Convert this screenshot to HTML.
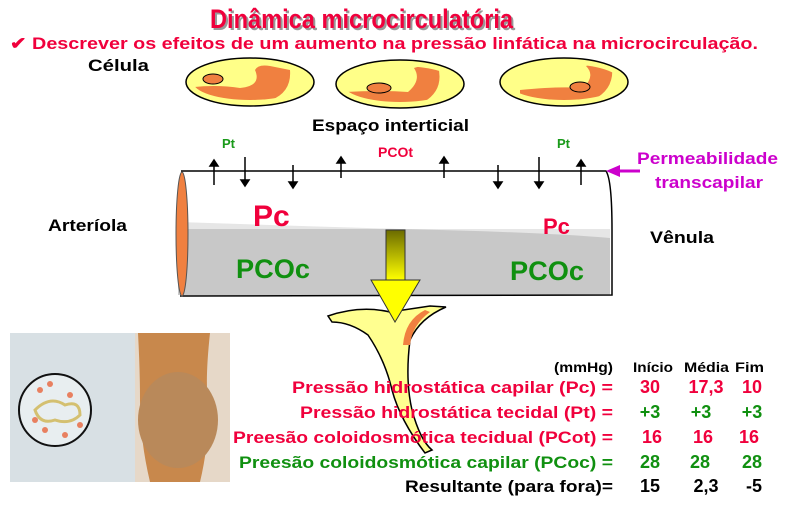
<!DOCTYPE html>
<html><head><meta charset="utf-8"><style>
html,body{margin:0;padding:0;background:#fff;width:786px;height:514px;overflow:hidden}
svg{display:block}
text{font-family:"Liberation Sans",Arial,sans-serif;font-weight:bold}
</style></head><body>
<svg width="786" height="514" viewBox="0 0 786 514" xmlns="http://www.w3.org/2000/svg">
<defs>
<linearGradient id="ag" x1="0" y1="0" x2="0" y2="1"><stop offset="0" stop-color="#6b6b00"/><stop offset="1" stop-color="#ffff00"/></linearGradient>
<clipPath id="c1"><ellipse cx="250" cy="82" rx="57" ry="18"/></clipPath>
<clipPath id="c2"><ellipse cx="400" cy="84" rx="57" ry="18"/></clipPath>
<clipPath id="c3"><ellipse cx="564" cy="82" rx="57" ry="18"/></clipPath>
</defs>
<text x="212" y="30" font-size="27" fill="#999" textLength="303" lengthAdjust="spacingAndGlyphs">Dinâmica microcirculatória</text>
<text x="210" y="28" font-size="27" fill="#f0003c" textLength="303" lengthAdjust="spacingAndGlyphs">Dinâmica microcirculatória</text>
<text x="10" y="49" font-size="17" fill="#f0003c" textLength="748" lengthAdjust="spacingAndGlyphs">✔ Descrever os efeitos de um aumento na pressão linfática na microcirculação.</text>
<text x="88" y="71" font-size="17" fill="#000" textLength="61" lengthAdjust="spacingAndGlyphs">Célula</text>
<g stroke="#000" stroke-width="1.5" fill="#ffff88">
<ellipse cx="250" cy="82" rx="64" ry="24"/>
<ellipse cx="400" cy="84" rx="64" ry="24"/>
<ellipse cx="564" cy="82" rx="64" ry="24"/>
</g>
<path clip-path="url(#c1)" d="M185,88 Q215,84 240,88 Q262,86 255,70 Q258,64 270,66 L290,70 Q292,95 265,102 Q220,110 185,98 Z" fill="#f08040"/>
<ellipse cx="213" cy="79" rx="10" ry="5" fill="#f08040" stroke="#000"/>
<path clip-path="url(#c2)" d="M345,92 Q380,90 408,92 Q422,80 414,68 Q425,64 438,66 Q445,92 420,104 Q380,112 345,102 Z" fill="#f08040"/>
<ellipse cx="379" cy="88" rx="12" ry="5" fill="#f08040" stroke="#000"/>
<path clip-path="url(#c3)" d="M520,90 Q560,86 583,88 Q596,76 586,66 Q598,62 612,66 Q615,92 588,102 Q550,108 520,100 Z" fill="#f08040"/>
<ellipse cx="580" cy="87" rx="10" ry="5" fill="#f08040" stroke="#000"/>
<text x="312" y="131" font-size="17" fill="#000" textLength="157" lengthAdjust="spacingAndGlyphs">Espaço interticial</text>
<text x="222" y="148" font-size="13" fill="#1a9a1a">Pt</text>
<text x="378" y="157" font-size="14" fill="#f0003c">PCOt</text>
<text x="557" y="148" font-size="13" fill="#1a9a1a">Pt</text>
<rect x="178" y="229" width="432" height="66" fill="#c8c8c8"/>
<path d="M178,229 L178,222 Q300,226 400,229 Q540,232 610,238 L610,229 Z" fill="#e6e6e6"/>
<path d="M181,171 L606,171 Q612,180 612,230 L612,295 L180,296" fill="none" stroke="#000" stroke-width="1.5"/>
<ellipse cx="182" cy="234" rx="6" ry="62" fill="#f08040" stroke="#555"/>
<g stroke="#000" stroke-width="1.5" fill="#000">
<line x1="214" y1="185" x2="214" y2="162"/><path d="M210,166 L214,160 L218,166Z"/>
<line x1="245" y1="157" x2="245" y2="183"/><path d="M241,180 L245,186 L249,180Z"/>
<line x1="293" y1="165" x2="293" y2="186"/><path d="M289,182 L293,188 L297,182Z"/>
<line x1="341" y1="178" x2="341" y2="160"/><path d="M337,163 L341,157 L345,163Z"/>
<line x1="444" y1="178" x2="444" y2="160"/><path d="M440,163 L444,157 L448,163Z"/>
<line x1="498" y1="165" x2="498" y2="186"/><path d="M494,182 L498,188 L502,182Z"/>
<line x1="539" y1="157" x2="539" y2="186"/><path d="M535,182 L539,188 L543,182Z"/>
<line x1="581" y1="185" x2="581" y2="162"/><path d="M577,166 L581,160 L585,166Z"/>
</g>
<line x1="640" y1="171" x2="618" y2="171" stroke="#cc00cc" stroke-width="3"/>
<path d="M606,171 L620,165 L620,177Z" fill="#cc00cc"/>
<text x="637" y="164" font-size="17" fill="#cc00cc" textLength="141" lengthAdjust="spacingAndGlyphs">Permeabilidade</text>
<text x="655" y="188" font-size="17" fill="#cc00cc" textLength="108" lengthAdjust="spacingAndGlyphs">transcapilar</text>
<text x="48" y="231" font-size="17" fill="#000" textLength="79" lengthAdjust="spacingAndGlyphs">Arteríola</text>
<text x="650" y="243" font-size="17" fill="#000" textLength="64" lengthAdjust="spacingAndGlyphs">Vênula</text>
<text x="253" y="226" font-size="30" fill="#f0003c">Pc</text>
<text x="543" y="234" font-size="22" fill="#f0003c">Pc</text>
<text x="236" y="278" font-size="27" fill="#109010" textLength="74" lengthAdjust="spacingAndGlyphs">PCOc</text>
<text x="510" y="280" font-size="27" fill="#109010" textLength="74" lengthAdjust="spacingAndGlyphs">PCOc</text>
<path d="M328,316 Q360,305 390,312 L430,306 L446,307 Q420,318 410,340 Q405,380 412,410 Q420,440 432,450 L425,453 Q400,420 392,390 Q385,360 368,335 Q350,322 332,322 Z" fill="#ffff90" stroke="#000" stroke-width="1.5"/>
<path d="M425,310 Q405,320 403,345 L410,345 Q412,325 430,312Z" fill="#f08040"/>
<rect x="386" y="230" width="19" height="50" fill="url(#ag)" stroke="#333"/>
<path d="M371,280 L420,280 L395,322 Z" fill="#ffff00" stroke="#333"/>
<rect x="10" y="333" width="220" height="149" fill="#d8e0e4"/>
<rect x="135" y="333" width="95" height="149" fill="#e6d8c8"/>
<path d="M138,333 L210,333 Q205,380 208,400 Q210,440 200,482 L150,482 Q140,440 140,400 Q140,370 138,333Z" fill="#c8884c"/>
<ellipse cx="178" cy="420" rx="40" ry="48" fill="#b9895a"/>
<circle cx="55" cy="410" r="36" fill="#e8eef0" stroke="#111" stroke-width="2"/>
<path d="M35,410 Q50,395 65,405 Q80,400 80,415 Q70,425 55,420 Q40,425 35,410Z" fill="none" stroke="#d4c070" stroke-width="3"/>
<g fill="#e88060"><circle cx="40" cy="390" r="3"/><circle cx="50" cy="384" r="3"/><circle cx="70" cy="395" r="3"/><circle cx="45" cy="430" r="3"/><circle cx="65" cy="435" r="3"/><circle cx="80" cy="425" r="3"/><circle cx="35" cy="420" r="3"/></g>
<g font-size="17">
<text x="554" y="372" font-size="14" fill="#000" textLength="59" lengthAdjust="spacingAndGlyphs">(mmHg)</text>
<text x="633" y="372" font-size="14" fill="#000" textLength="40" lengthAdjust="spacingAndGlyphs">Início</text>
<text x="684" y="372" font-size="14" fill="#000" textLength="45" lengthAdjust="spacingAndGlyphs">Média</text>
<text x="735" y="372" font-size="14" fill="#000" textLength="29" lengthAdjust="spacingAndGlyphs">Fim</text>
<text x="292" y="393" fill="#f0003c" textLength="321" lengthAdjust="spacingAndGlyphs">Pressão hidrostática  capilar (Pc) =</text>
<text x="300" y="418" fill="#f0003c" textLength="313" lengthAdjust="spacingAndGlyphs">Pressão hidrostática tecidal (Pt) =</text>
<text x="233" y="443" fill="#f0003c" textLength="380" lengthAdjust="spacingAndGlyphs">Preesão coloidosmótica tecidual (PCot) =</text>
<text x="239" y="468" fill="#109010" textLength="374" lengthAdjust="spacingAndGlyphs">Preesão coloidosmótica capilar (PCoc) =</text>
<text x="405" y="492" fill="#000" textLength="208" lengthAdjust="spacingAndGlyphs">Resultante (para fora)=</text>
<g font-size="18" text-anchor="middle">
<text x="650" y="393" fill="#f0003c">30</text><text x="706" y="393" fill="#f0003c">17,3</text><text x="752" y="393" fill="#f0003c">10</text>
<text x="650" y="418" fill="#109010">+3</text><text x="701" y="418" fill="#109010">+3</text><text x="752" y="418" fill="#109010">+3</text>
<text x="652" y="443" fill="#f0003c">16</text><text x="703" y="443" fill="#f0003c">16</text><text x="749" y="443" fill="#f0003c">16</text>
<text x="650" y="468" fill="#109010">28</text><text x="700" y="468" fill="#109010">28</text><text x="752" y="468" fill="#109010">28</text>
<text x="650" y="492" fill="#000">15</text><text x="706" y="492" fill="#000">2,3</text><text x="754" y="492" fill="#000">-5</text>
</g>
</g>
</svg>
</body></html>
